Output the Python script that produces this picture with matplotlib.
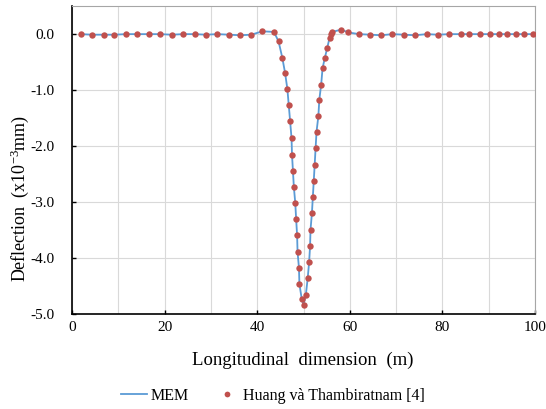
import matplotlib
matplotlib.use("Agg")
import matplotlib.pyplot as plt
from matplotlib.ticker import MultipleLocator

plt.rcParams['font.family'] = ['Liberation Serif', 'DejaVu Serif']
plt.rcParams['mathtext.fontset'] = 'custom'
plt.rcParams['mathtext.rm'] = 'Liberation Serif'
plt.rcParams['mathtext.it'] = 'Liberation Serif:italic'
plt.rcParams['mathtext.bf'] = 'Liberation Serif:bold'

# Data (x in m, deflection in x10^-3 mm)
x_pts = [1.9, 4.3, 6.8, 9.1, 11.7, 14.1, 16.6, 19.0, 21.5, 24.0, 26.5, 28.9, 31.4, 33.9, 36.3, 38.7,
         41.1, 43.6, 44.6, 45.4, 46.0, 46.5, 46.8, 47.1, 47.4, 47.5, 47.7,
         47.9, 48.2, 48.4, 48.6, 48.7, 49.0, 49.1, 49.6, 50.0, 50.5,
         50.9, 51.2, 51.4, 51.5, 51.8, 52.0, 52.2, 52.4, 52.6, 52.8, 53.2, 53.4, 53.8, 54.1,
         54.6, 55.1, 55.6, 55.9, 56.2, 58.1, 59.7,
         62.0, 64.4, 66.8, 69.2, 71.7, 74.1, 76.6, 79.0, 81.5, 84.0, 85.7, 88.0, 90.3, 92.1,
         93.9, 95.8, 97.7, 99.6]
y_pts = [0.0, -0.01, -0.01, -0.01, 0.0, 0.0, 0.0, 0.0, -0.01, 0.0, 0.0, -0.01, 0.0, -0.01, -0.02, -0.01,
         0.05, 0.04, -0.13, -0.42, -0.69, -0.98, -1.27, -1.56, -1.86, -2.15, -2.44,
         -2.73, -3.01, -3.31, -3.59, -3.89, -4.17, -4.46, -4.73, -4.83, -4.65,
         -4.35, -4.07, -3.79, -3.49, -3.20, -2.91, -2.62, -2.33, -2.03, -1.74, -1.46, -1.17, -0.90, -0.61,
         -0.42, -0.25, -0.07, 0.01, 0.04, 0.08, 0.03,
         0.0, -0.01, -0.02, 0.0, -0.01, -0.02, 0.0, -0.01, 0.0, 0.0, 0.0, 0.0, 0.0, 0.0,
         0.0, 0.0, 0.0, 0.0]

mem_x = x_pts
mem_y = y_pts

x_ticks = [0, 20, 40, 60, 80, 100]
y_ticks = [0.0, -1.0, -2.0, -3.0, -4.0, -5.0]

fig = plt.figure(figsize=(5.46, 4.09), dpi=100)
ax = fig.add_axes([0.132, 0.232, 0.848, 0.753])

ax.plot(mem_x, mem_y, color='#5B9BD5', lw=1.3, label='MEM', zorder=2)
ax.plot(x_pts, y_pts, ls='none', marker='o', ms=4.6, color='#C0504D',
        markeredgewidth=0, label='Huang và Thambiratnam [4]', zorder=3)

ax.set_xlim(0, 100)
ax.set_ylim(-5.0, 0.5)
ax.set_xticks(x_ticks)
ax.set_xticklabels([str(t) for t in x_ticks])
ax.xaxis.set_minor_locator(MultipleLocator(10))
ax.set_yticks(y_ticks)
ax.set_yticklabels(['%.1f' % t if t == 0 else '-%.1f' % abs(t) for t in y_ticks])

ax.grid(True, which='both', axis='x', color='#d9d9d9', lw=0.8)
ax.grid(True, which='major', axis='y', color='#d9d9d9', lw=0.8)
ax.set_axisbelow(True)

ax.tick_params(axis='both', which='major', direction='in', length=3, width=1,
               labelsize=11, colors='black')
ax.tick_params(axis='y', which='major', pad=13)
ax.tick_params(axis='x', which='major', pad=5)
ax.tick_params(axis='x', which='minor', length=0)
for s in ['left', 'bottom']:
    ax.spines[s].set_color('black')
    ax.spines[s].set_linewidth(1.2)
for s in ['top', 'right']:
    ax.spines[s].set_color('#a6a6a6')
    ax.spines[s].set_linewidth(0.8)

fig.text(303 / 546, 1 - 360 / 409, 'Longitudinal  dimension  (m)', fontsize=13.5,
         ha='center', va='center')
fig.text(20 / 546, 1 - 198 / 409, 'Deflection  (x10$^{\\mathrm{-3}}$mm)', fontsize=13,
         ha='center', va='center', rotation=90)

fig.legend(loc='center', bbox_to_anchor=(0.5, 1 - 396 / 409), ncol=2, frameon=False,
           fontsize=11.5, handlelength=1.6, columnspacing=1.6, handletextpad=0.2,
           markerscale=0.9)

fig.savefig('out.png', dpi=100)
